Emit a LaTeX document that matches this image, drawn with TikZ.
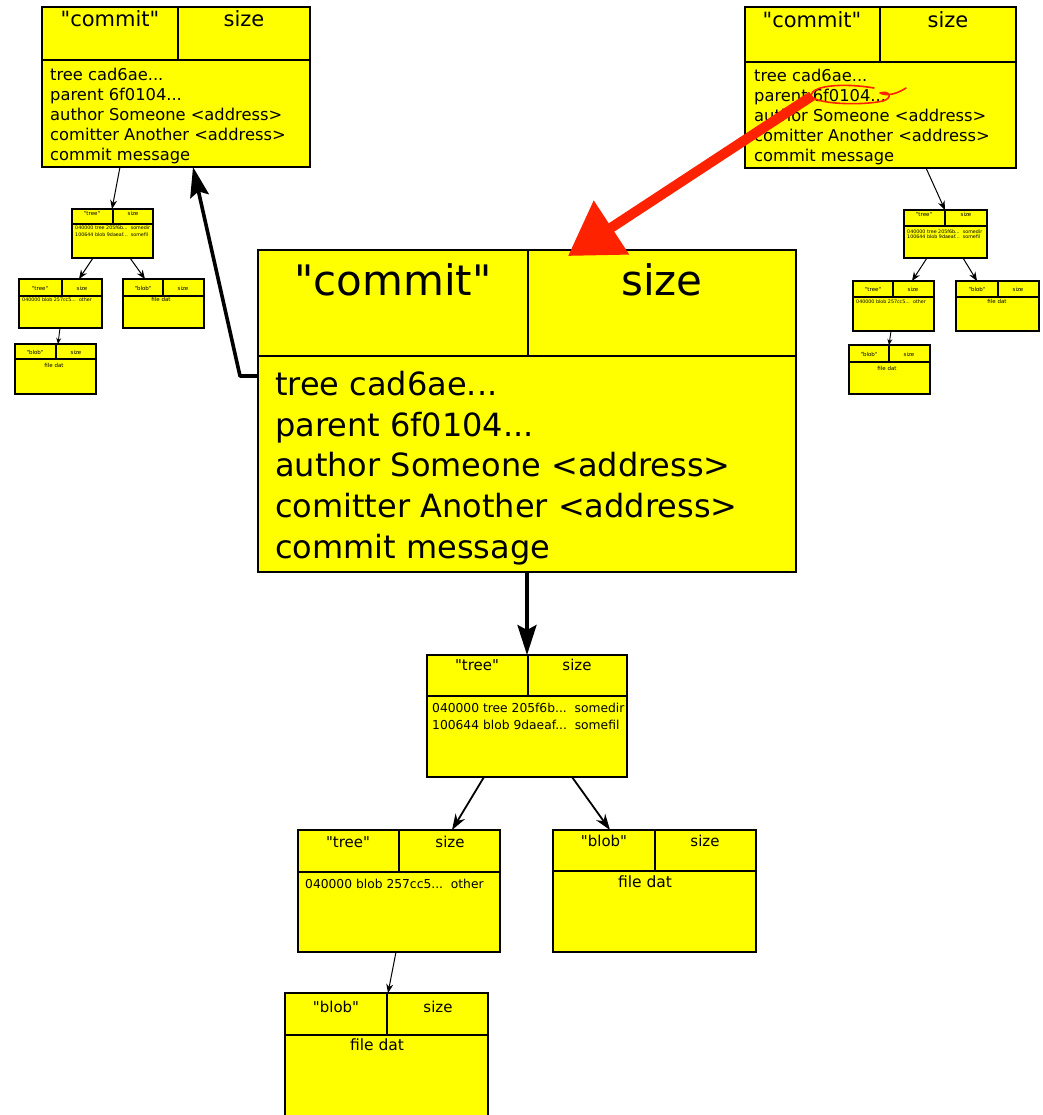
\documentclass[tikz,border=0pt]{standalone}
\usepackage{fontspec}
\setmainfont{DejaVu Sans}
\usetikzlibrary{arrows.meta,calc}
\definecolor{objyellow}{RGB}{255,255,0}
\definecolor{markred}{RGB}{255,34,0}

\tikzset{
  objbox/.style={draw=black, fill=objyellow, rectangle, inner sep=0pt, outer sep=0pt},
  lbl/.style={inner sep=0pt, anchor=base, text=black},
  bodytxt/.style={inner sep=0pt, anchor=north west, align=left, text=black},
  link/.style={draw=black, line width=1pt, -{Stealth[length=9pt,width=7pt]}},
  midlink/.style={draw=black, line width=1.8pt, -{Stealth[length=16pt,width=11pt]}},
  boldlink/.style={draw=black, line width=3.6pt, line join=round, -{Stealth[length=30pt,width=19pt,inset=5pt]}},
  tinylink/.style={draw=black, line width=0.9pt, -{Stealth[length=6pt,width=5pt]}},
  redmark/.style={draw=markred, line width=1.6pt, line cap=round, line join=round},
  redlink/.style={draw=markred, line width=10pt, -{Triangle[length=52pt,width=62pt]}},
}

% git object: #1 name, #2 left, #3 top, #4 right, #5 bottom,
% #6 x of the header divider, #7 y of the header rule, #8 line width
\newcommand\gitobj[8]{%
  \node[objbox, line width=#8, minimum width={#4-#2}, minimum height={#5-#3}]
    (#1) at ({(#2+#4)/2},{(#3+#5)/2}) {};
  \draw[line width=#8] (#1.west |- 0,#7) -- (#1.east |- 0,#7)
                       (#1.north -| #6,0) -- (#6,#7);
}
\newcommand\sz[2]{\fontsize{#1}{#2}\selectfont}
\newcommand\qt[1]{\textquotedbl#1\textquotedbl}

\begin{document}
\begin{tikzpicture}[x=1pt,y=-1pt]
\useasboundingbox (0,0) rectangle (1042,1115);
\clip (0,0) rectangle (1042,1115);

% ---------- large commit ----------
\gitobj{cbig}{258}{250}{796}{572}{528}{356}{2pt}
\node[lbl, font=\sz{42}{50}] at (393,295) {\qt{commit}};
\node[lbl, font=\sz{42}{50}] at (662,295) {size};
\node[bodytxt, font=\sz{32}{40.7}] at (275,371)
  {tree cad6ae...\\parent 6f0104...\\author Someone <address>\\comitter Another <address>\\commit message};

% ---------- commit, top left ----------
\gitobj{cleft}{42}{7}{310}{167}{178}{60}{1.6pt}
\node[lbl, font=\sz{21}{24}] at (110,27) {\qt{commit}};
\node[lbl, font=\sz{21}{24}] at (244,27) {size};
\node[bodytxt, font=\sz{16.3}{20}] at (50,68)
  {tree cad6ae...\\parent 6f0104...\\author Someone <address>\\comitter Another <address>\\commit message};

% ---------- commit, top right ----------
\gitobj{cright}{745}{7}{1016}{168}{880}{62}{1.6pt}
\node[lbl, font=\sz{21}{24}] at (812,28) {\qt{commit}};
\node[lbl, font=\sz{21}{24}] at (948,28) {size};
\node[bodytxt, font=\sz{16.3}{20}] at (754,69)
  {tree cad6ae...\\parent 6f0104...\\author Someone <address>\\comitter Another <address>\\commit message};

% ---------- tree of the large commit ----------
\gitobj{tmid}{427}{655}{627}{777}{528}{696}{1.6pt}
\node[lbl, font=\sz{15}{18}] at (477,670) {\qt{tree}};
\node[lbl, font=\sz{15}{18}] at (577,670) {size};
\node[bodytxt, font=\sz{12.3}{17}] at (432,703)
  {040000 tree 205f6b...~~somedir\\100644 blob 9daeaf...~~somefil};

\gitobj{tlow}{298}{830}{500}{952}{399}{872}{1.6pt}
\node[lbl, font=\sz{15}{18}] at (348,847) {\qt{tree}};
\node[lbl, font=\sz{15}{18}] at (450,847) {size};
\node[bodytxt, font=\sz{12.3}{17}] at (305,879) {040000 blob 257cc5...~~other};

\gitobj{bright}{553}{830}{756}{952}{655}{871}{1.6pt}
\node[lbl, font=\sz{15}{18}] at (604,846) {\qt{blob}};
\node[lbl, font=\sz{15}{18}] at (705,846) {size};
\node[lbl, font=\sz{15.5}{18}] at (645,887) {file dat};

\gitobj{bbot}{285}{993}{488}{1130}{387}{1035}{1.6pt}
\node[lbl, font=\sz{15}{18}] at (336,1012) {\qt{blob}};
\node[lbl, font=\sz{15}{18}] at (438,1012) {size};
\node[lbl, font=\sz{15.5}{18}] at (377,1050) {file dat};

% ---------- small trees, left ----------
\gitobj{stl}{72}{209}{153}{258}{113}{224}{1.2pt}
\node[lbl, font=\sz{5.5}{6}] at (92,216) {\qt{tree}};
\node[lbl, font=\sz{5.5}{6}] at (133,216) {size};
\node[bodytxt, font=\sz{4.8}{6.5}] at (75,226)
  {040000 tree 205f6b...~~somedir\\100644 blob 9daeaf...~~somefil};

\gitobj{sstl}{19}{279}{102}{328}{62}{296}{1.2pt}
\node[lbl, font=\sz{5.5}{6}] at (40,290) {\qt{tree}};
\node[lbl, font=\sz{5.5}{6}] at (82,290) {size};
\node[bodytxt, font=\sz{4.8}{6}] at (22,298) {040000 blob 257cc5...~~other};

\gitobj{sbl}{123}{279}{204}{328}{163}{296}{1.2pt}
\node[lbl, font=\sz{5.5}{6}] at (143,290) {\qt{blob}};
\node[lbl, font=\sz{5.5}{6}] at (183,290) {size};
\node[lbl, font=\sz{5.5}{6}] at (161,301) {file dat};

\gitobj{sbl2}{15}{344}{96}{394}{56}{359}{1.2pt}
\node[lbl, font=\sz{5.5}{6}] at (35,354) {\qt{blob}};
\node[lbl, font=\sz{5.5}{6}] at (76,354) {size};
\node[lbl, font=\sz{5.5}{6}] at (54,367) {file dat};

% ---------- small trees, right ----------
\gitobj{str}{904}{210}{987}{258}{945}{226}{1.2pt}
\node[lbl, font=\sz{5.5}{6}] at (924,217) {\qt{tree}};
\node[lbl, font=\sz{5.5}{6}] at (966,217) {size};
\node[bodytxt, font=\sz{4.8}{4.5}] at (907,230)
  {040000 tree 205f6b...~~somedir\\100644 blob 9daeaf...~~somefil};

\gitobj{sstr}{853}{281}{934}{331}{893}{297}{1.2pt}
\node[lbl, font=\sz{5.5}{6}] at (873,291) {\qt{tree}};
\node[lbl, font=\sz{5.5}{6}] at (913,291) {size};
\node[bodytxt, font=\sz{4.8}{6}] at (856,300) {040000 blob 257cc5...~~other};

\gitobj{sbr}{956}{281}{1039}{331}{998}{297}{1.2pt}
\node[lbl, font=\sz{5.5}{6}] at (977,291) {\qt{blob}};
\node[lbl, font=\sz{5.5}{6}] at (1018,291) {size};
\node[lbl, font=\sz{5.5}{6}] at (997,303) {file dat};

\gitobj{sbr2}{849}{345}{930}{394}{889}{362}{1.2pt}
\node[lbl, font=\sz{5.5}{6}] at (869,356) {\qt{blob}};
\node[lbl, font=\sz{5.5}{6}] at (909,356) {size};
\node[lbl, font=\sz{5.5}{6}] at (887,370) {file dat};

% ---------- connectors ----------
\draw[link] (cleft.south -| 120,0) -- (stl.north -| 112,0);
\draw[link] (stl.south -| 93,0) -- (sstl.north -| 79,0);
\draw[link] (stl.south -| 130,0) -- (sbl.north -| 145,0);
\draw[tinylink] (sstl.south -| 60,0) -- (sbl2.north -| 58,0);

\draw[link] (cright.south -| 926,0) -- (str.north -| 945,0);
\draw[link] (str.south -| 927,0) -- (sstr.north -| 912,0);
\draw[link] (str.south -| 963,0) -- (sbr.north -| 977,0);
\draw[tinylink] (sstr.south -| 891,0) -- (sbr2.north -| 889,0);

\draw[boldlink] (cbig.south) -- (tmid.north);
\draw[midlink] (tmid.south -| 484,0) -- (tlow.north -| 452,0);
\draw[midlink] (tmid.south -| 572,0) -- (bright.north -| 610,0);
\draw[link] (tlow.south -| 396,0) -- (bbot.north -| 388,0);

\coordinate (bend) at (240,376);
\draw[boldlink] (cbig.west |- 0,376) -- (bend) -- (cleft.south -| 193,0);

% ---------- red annotation ----------
\coordinate (mark) at (812,96);
\draw[redlink] (mark) -- ($(cbig.north -| 568,0)+(0,6)$);
\draw[redmark] (874,88) .. controls (845,83) and (813,85) .. (811,95)
  .. controls (812,104) and (860,106) .. (883,101)
  .. controls (893,98) and (890,90) .. (880,93)
  .. controls (888,97) and (898,93) .. (906,88);
\end{tikzpicture}
\end{document}
